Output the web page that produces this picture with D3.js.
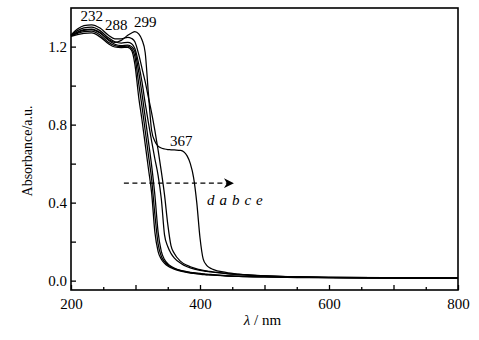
<!DOCTYPE html>
<html>
<head>
<meta charset="utf-8">
<script src="https://cdn.jsdelivr.net/npm/d3@7/dist/d3.min.js"></script>
<style>
  html, body { margin: 0; padding: 0; background: #fff; }
  svg { display: block; }
  text { font-family: "Liberation Serif", "Times New Roman", serif; fill: #000; }
</style>
</head>
<body>
<svg id="chart" width="479" height="340"></svg>
<script>
// Wavelength grid (nm) shared by all spectra
const wavelength = [200, 210, 220, 232, 245, 258, 268, 278, 288, 294, 299, 305, 310, 315, 320, 325, 330, 335, 340, 345, 350, 355, 360, 370, 380, 385, 390, 395, 400, 405, 410, 415, 420, 440, 460, 500, 550, 600, 700, 800];

// Absorbance spectra (a.u.)
const specD = [1.253, 1.262, 1.268, 1.270, 1.250, 1.215, 1.198, 1.195, 1.196, 1.180, 1.110, 0.940, 0.825, 0.700, 0.575, 0.450, 0.250, 0.150, 0.110, 0.089, 0.075, 0.066, 0.059, 0.049, 0.042, 0.039, 0.037, 0.035, 0.033, 0.031, 0.030, 0.029, 0.028, 0.024, 0.022, 0.019, 0.016, 0.015, 0.013, 0.012];
const specA = [1.255, 1.268, 1.277, 1.279, 1.260, 1.222, 1.205, 1.200, 1.202, 1.190, 1.150, 1.010, 0.895, 0.770, 0.645, 0.520, 0.340, 0.190, 0.125, 0.097, 0.081, 0.070, 0.062, 0.051, 0.044, 0.041, 0.039, 0.037, 0.035, 0.033, 0.031, 0.030, 0.029, 0.025, 0.022, 0.019, 0.017, 0.015, 0.013, 0.012];
const specB = [1.256, 1.275, 1.287, 1.290, 1.272, 1.232, 1.212, 1.205, 1.208, 1.200, 1.175, 1.070, 0.960, 0.840, 0.715, 0.590, 0.440, 0.250, 0.150, 0.108, 0.087, 0.074, 0.065, 0.053, 0.046, 0.043, 0.041, 0.039, 0.037, 0.035, 0.033, 0.032, 0.031, 0.026, 0.023, 0.020, 0.017, 0.016, 0.014, 0.013];
const specC = [1.258, 1.282, 1.296, 1.300, 1.282, 1.245, 1.225, 1.218, 1.222, 1.215, 1.190, 1.110, 1.020, 0.910, 0.810, 0.715, 0.625, 0.540, 0.420, 0.235, 0.175, 0.140, 0.117, 0.089, 0.071, 0.065, 0.060, 0.056, 0.053, 0.050, 0.047, 0.045, 0.043, 0.036, 0.031, 0.024, 0.019, 0.017, 0.015, 0.013];
const specF = [1.260, 1.290, 1.308, 1.312, 1.295, 1.258, 1.240, 1.240, 1.248, 1.242, 1.225, 1.160, 1.090, 1.020, 0.940, 0.860, 0.770, 0.670, 0.560, 0.440, 0.290, 0.180, 0.140, 0.099, 0.078, 0.071, 0.065, 0.060, 0.056, 0.053, 0.050, 0.047, 0.045, 0.037, 0.032, 0.025, 0.020, 0.017, 0.015, 0.013];
const specE = [1.255, 1.272, 1.283, 1.287, 1.270, 1.238, 1.222, 1.232, 1.258, 1.270, 1.277, 1.265, 1.235, 1.170, 0.960, 0.770, 0.715, 0.690, 0.680, 0.675, 0.672, 0.671, 0.670, 0.668, 0.640, 0.600, 0.530, 0.400, 0.220, 0.110, 0.080, 0.066, 0.058, 0.042, 0.033, 0.024, 0.019, 0.017, 0.015, 0.014];

const spectra = [specD, specA, specB, specC, specF, specE];

// Axis ticks
const xMajorTicks = [200, 300, 400, 500, 600, 700, 800];
const xMinorTicks = [250, 350, 450, 550, 650, 750];
const xTickLabels = [200, 400, 600, 800];
const yTicks = [0.0, 0.2, 0.4, 0.6, 0.8, 1.0, 1.2];
const yTickLabels = [0.0, 0.4, 0.8, 1.2];

// Peak annotations: [text, wavelength, absorbance at text baseline]
const peakLabels = [["232", 232, 1.33], ["288", 270, 1.285], ["299", 315, 1.302], ["367", 371, 0.688]];
const seriesOrder = "d a b c e";

const svg = d3.select("#chart");
const margin = { left: 71, right: 21, top: 8, bottom: 50 };
const W = 479, H = 340;

const x = d3.scaleLinear().domain([200, 800]).range([margin.left, W - margin.right]);
const y = d3.scaleLinear().domain([-0.048, 1.398]).range([H - margin.bottom, margin.top]);

const plot = svg.append("g");

// Curves
const line = d3.line()
  .x((d, i) => x(wavelength[i]))
  .y(d => y(d))
  .curve(d3.curveMonotoneX);

plot.selectAll("path.spec")
  .data(spectra)
  .join("path")
  .attr("class", "spec")
  .attr("d", line)
  .attr("fill", "none")
  .attr("stroke", "#000")
  .attr("stroke-width", 1.25);

// Frame
svg.append("rect")
  .attr("x", x(200)).attr("y", y(1.398))
  .attr("width", x(800) - x(200)).attr("height", y(-0.048) - y(1.398))
  .attr("fill", "none").attr("stroke", "#000").attr("stroke-width", 1.6);

// X axis (ticks pointing inward)
const xAxis = d3.axisBottom(x).tickValues(xMajorTicks).tickSizeInner(-5).tickSizeOuter(0)
  .tickFormat(d => xTickLabels.includes(d) ? d : "");
const gx = svg.append("g").attr("transform", `translate(0,${y(-0.048)})`).call(xAxis);
gx.select(".domain").remove();
gx.selectAll(".tick line").attr("stroke-width", 1.3);
gx.selectAll(".tick text").attr("dy", "1.05em").attr("y", 3).style("font-size", "15px").style("font-family", "Liberation Serif");

const xAxisMinor = d3.axisBottom(x).tickValues(xMinorTicks).tickSizeInner(-3).tickSizeOuter(0).tickFormat("");
const gxm = svg.append("g").attr("transform", `translate(0,${y(-0.048)})`).call(xAxisMinor);
gxm.select(".domain").remove();
gxm.selectAll(".tick line").attr("stroke-width", 1.3);

// Y axis (ticks pointing inward)
const yAxis = d3.axisLeft(y).tickValues(yTicks).tickSizeInner(-5).tickSizeOuter(0)
  .tickFormat(d => yTickLabels.some(v => Math.abs(v - d) < 1e-9) ? d3.format(".1f")(d) : "");
const gy = svg.append("g").attr("transform", `translate(${x(200)},0)`).call(yAxis);
gy.select(".domain").remove();
gy.selectAll(".tick line").attr("stroke-width", 1.3);
gy.selectAll(".tick text").attr("x", -4).style("font-size", "15px").style("font-family", "Liberation Serif");

// Axis titles
const xt = svg.append("text")
  .attr("x", x(500) - 2).attr("y", 325)
  .attr("text-anchor", "middle")
  .style("font-size", "15px");
xt.append("tspan").attr("font-style", "italic").text("λ");
xt.append("tspan").text(" / nm");

svg.append("text")
  .attr("transform", `translate(32,${y(0.665)}) rotate(-90)`)
  .attr("text-anchor", "middle")
  .style("font-size", "14px")
  .text("Absorbance/a.u.");

// Peak labels
svg.selectAll("text.peak")
  .data(peakLabels)
  .join("text")
  .attr("class", "peak")
  .attr("x", d => x(d[1]))
  .attr("y", d => y(d[2]))
  .attr("text-anchor", "middle")
  .style("font-size", "15px")
  .text(d => d[0]);

// Red-shift arrow
const defs = svg.append("defs");
defs.append("marker")
  .attr("id", "head").attr("viewBox", "0 0 10 10")
  .attr("refX", 9).attr("refY", 5)
  .attr("markerWidth", 10).attr("markerHeight", 10)
  .attr("markerUnits", "userSpaceOnUse")
  .attr("orient", "auto")
  .append("path").attr("d", "M0,0 L10,5 L0,10 L3,5 Z").attr("fill", "#000");

svg.append("line")
  .attr("x1", x(282)).attr("x2", x(451))
  .attr("y1", y(0.5)).attr("y2", y(0.5))
  .attr("stroke", "#000").attr("stroke-width", 1.2)
  .attr("stroke-dasharray", "5,3.5")
  .attr("marker-end", "url(#head)");

svg.append("text")
  .attr("x", x(411)).attr("y", y(0.39))
  .style("font-size", "15px").style("font-style", "italic")
  .attr("letter-spacing", "0.6px")
  .text(seriesOrder);
</script>
</body>
</html>
